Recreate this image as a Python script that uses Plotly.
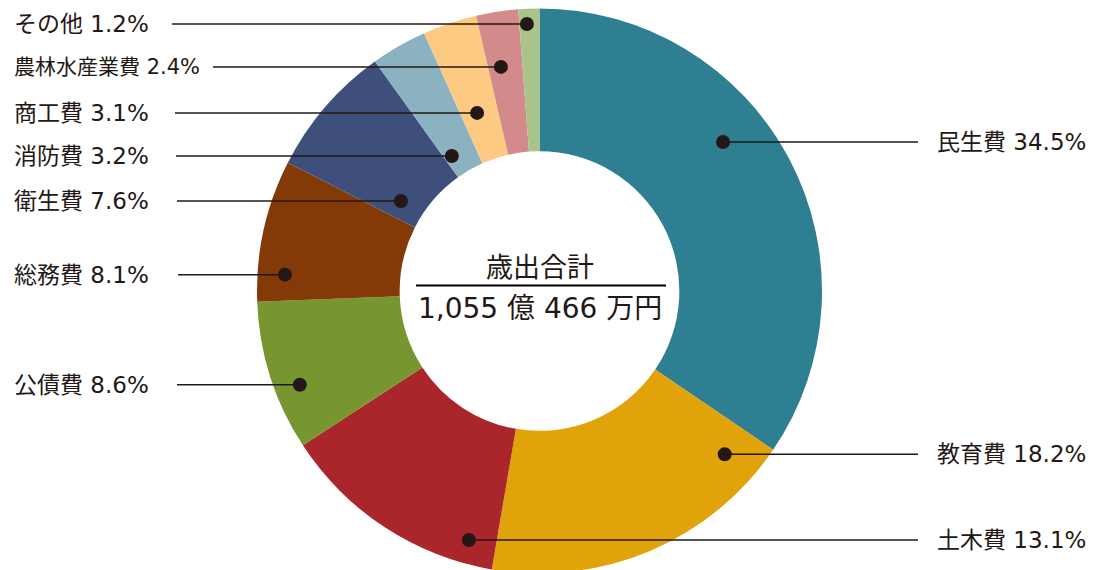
import math
import plotly.graph_objects as go

# ---- data ----
categories = ["民生費", "教育費", "土木費", "公債費", "総務費", "衛生費", "消防費", "商工費", "農林水産業費", "その他"]
shares = [34.5, 18.2, 13.1, 8.6, 8.1, 7.6, 3.2, 3.1, 2.4, 1.2]
total_title = "歳出合計"
total_value = "1,055 億 466 万円"

# ---- style ----
colors = ["#2F7F92", "#E0A30A", "#AB262B", "#78962F", "#843A07",
          "#3F4F7C", "#8BB2C0", "#FDCA84", "#D38A8B", "#A9C38C"]
# leader anchor inside each slice: fraction along the slice, fraction of the radius
anchor_frac = [0.41, 0.11, 0.13, 0.38, 0.20, 0.22, 0.23, 0.43, 0.37, 0.375]
anchor_rad = [0.837, 0.874, 0.916, 0.911, 0.903, 0.585, 0.570, 0.668, 0.805, 0.946]
side = ["R", "R", "R", "L", "L", "L", "L", "L", "L", "L"]
label_size = [23, 23, 23, 23, 23, 23, 23, 23, 21, 23]
left_line_start = [None, None, None, 177, 178, 177, 176, 175, 213, 172]
INK = "#231815"
FONT = "DejaVu Sans, Noto Sans CJK JP"
W, H = 1102, 570
OFF = 8  # page body margin
# pie geometry in page pixels
PIE_CX, PIE_CY, PIE_R = 539.5, 291.0, 282.5
HOLE = 0.495
LEFT_TEXT_START = 12
RIGHT_TEXT_START, RIGHT_LINE_END = 935, 918


def px(x):
    return (x - OFF) / W


def py(y):
    return 1 - (y - OFF) / H


fcx, fcy = PIE_CX - OFF, PIE_CY - OFF
DOM_X = [(fcx - PIE_R - 20) / W, (fcx + PIE_R + 20) / W]
DOM_Y = [(H - fcy - PIE_R) / H, (H - fcy + PIE_R) / H]
cx, cy, R = PIE_CX, PIE_CY, PIE_R

fig = go.Figure(go.Pie(
    labels=categories, values=shares, sort=False, direction="clockwise", rotation=0,
    hole=HOLE, textinfo="none", hoverinfo="label+percent",
    marker=dict(colors=colors, line=dict(width=0)),
    domain=dict(x=DOM_X, y=DOM_Y), showlegend=False,
))

shapes, annotations = [], []
total = sum(shares)
start = 0.0
for i, (cat, v, f, rf, s) in enumerate(zip(categories, shares, anchor_frac, anchor_rad, side)):
    span = v / total * 360
    ang = math.radians(start + f * span)
    start += span
    dx = cx + rf * R * math.sin(ang)
    dy = cy - rf * R * math.cos(ang)
    if s == "R":
        x_end = RIGHT_LINE_END
        tx = RIGHT_TEXT_START
    else:
        x_end = left_line_start[i]
        tx = LEFT_TEXT_START
    annotations.append(dict(x=px(tx), y=py(dy), xref="paper", yref="paper",
                            text=f"{cat} {v}%", showarrow=False, xanchor="left", yanchor="middle",
                            font=dict(family=FONT, size=label_size[i], color=INK)))
    shapes.append(dict(type="line", xref="paper", yref="paper", x0=px(dx), y0=py(dy),
                       x1=px(x_end), y1=py(dy), line=dict(color=INK, width=1.5)))
    rd = 7
    shapes.append(dict(type="circle", xref="paper", yref="paper", x0=px(dx - rd), x1=px(dx + rd),
                       y0=py(dy - rd), y1=py(dy + rd), fillcolor=INK, line=dict(width=0)))

# centre caption
shapes.append(dict(type="line", xref="paper", yref="paper", x0=px(416), x1=px(666),
                   y0=py(285.5), y1=py(285.5), line=dict(color="#000000", width=2)))
annotations.append(dict(x=px(cx), y=py(267), xref="paper", yref="paper", text=total_title,
                        showarrow=False, xanchor="center", yanchor="middle",
                        font=dict(family=FONT, size=27, color=INK)))
annotations.append(dict(x=px(cx), y=py(308), xref="paper", yref="paper", text=total_value,
                        showarrow=False, xanchor="center", yanchor="middle",
                        font=dict(family=FONT, size=28, color=INK)))

fig.update_layout(width=W, height=H, margin=dict(l=0, r=0, t=0, b=0),
                  paper_bgcolor="white", plot_bgcolor="white",
                  shapes=shapes, annotations=annotations)
fig.write_html("out.html")
